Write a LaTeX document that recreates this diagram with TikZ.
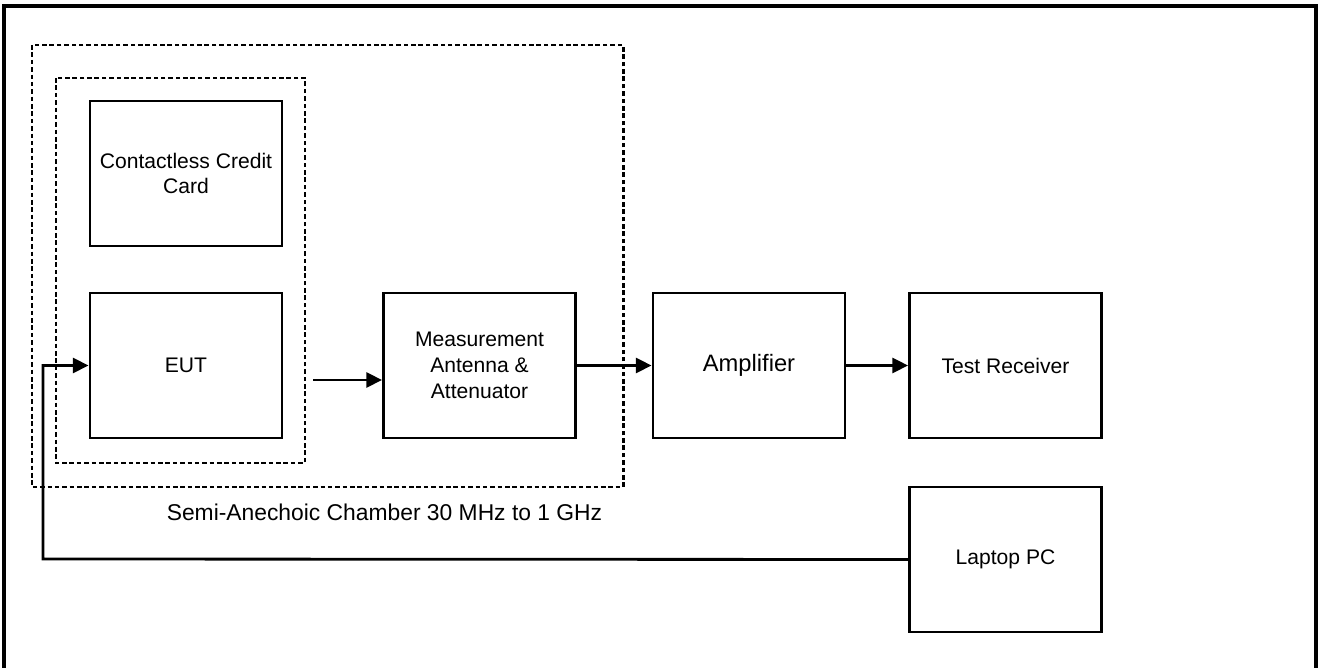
\documentclass[tikz,border=0pt]{standalone}
\usepackage{fontspec}
\setmainfont{Liberation Sans}
\usepackage{tikz}
\usetikzlibrary{calc,arrows.meta}
\newcommand*{\BlockColumn}[1]{% #1 = list of x/y/name/text
\foreach \x/\y/\name/\text in {#1} {
\node [block] (\name)
at (\x,\y) {\text};
}%
}

\begin{document}
\begin{tikzpicture}[x=0.02cm,y=-0.02cm,
    block/.style={draw, line width=1.6pt, minimum width=3.84cm, minimum height=2.9cm,
        align=center, inner sep=2pt, font=\fontsize{12}{14.7}\selectfont},
    chamber/.style={line width=1.7pt, dash pattern=on 2.6pt off 1.6pt},
    link/.style={line width=1.6pt, -{Triangle[length=9pt,width=8.5pt]}}]

            \useasboundingbox (0,0) rectangle (1318,668);
            \draw[line width=2.5pt] (4,680) -- (4,6) -- (1316,6) -- (1316,680);

            \draw[chamber] (32,45) rectangle (623,487);
            \draw[chamber] (56,78) rectangle (305,463);

            \BlockColumn{186/173.5/card/{Contactless Credit\\Card}, 186/365.5/eut/{EUT}}
            \BlockColumn{479.5/365.5/meas/{Measurement\\Antenna \&\\Attenuator}}
            \BlockColumn{749/365.5/amp/{\fontsize{13.5}{16}\selectfont Amplifier}}
            \BlockColumn{1005.5/365.5/rx/{Test Receiver}, 1005.5/559.5/pc/{Laptop PC}}

            \node [font=\fontsize{13}{16}\selectfont] (label) at (384.5,512)
                {Semi-Anechoic Chamber 30 MHz to 1 GHz};

            \coordinate (src) at (313,380);
            \coordinate (bend) at (43,559);
            \draw[link] (src) -- (src -| meas.west);
            \draw[link] (meas.east) -- (amp.west);
            \draw[link] (amp.east) -- (rx.west);
            \draw[link] (pc.west) -- (bend) |- (eut.west);

        \end{tikzpicture}
\end{document}
